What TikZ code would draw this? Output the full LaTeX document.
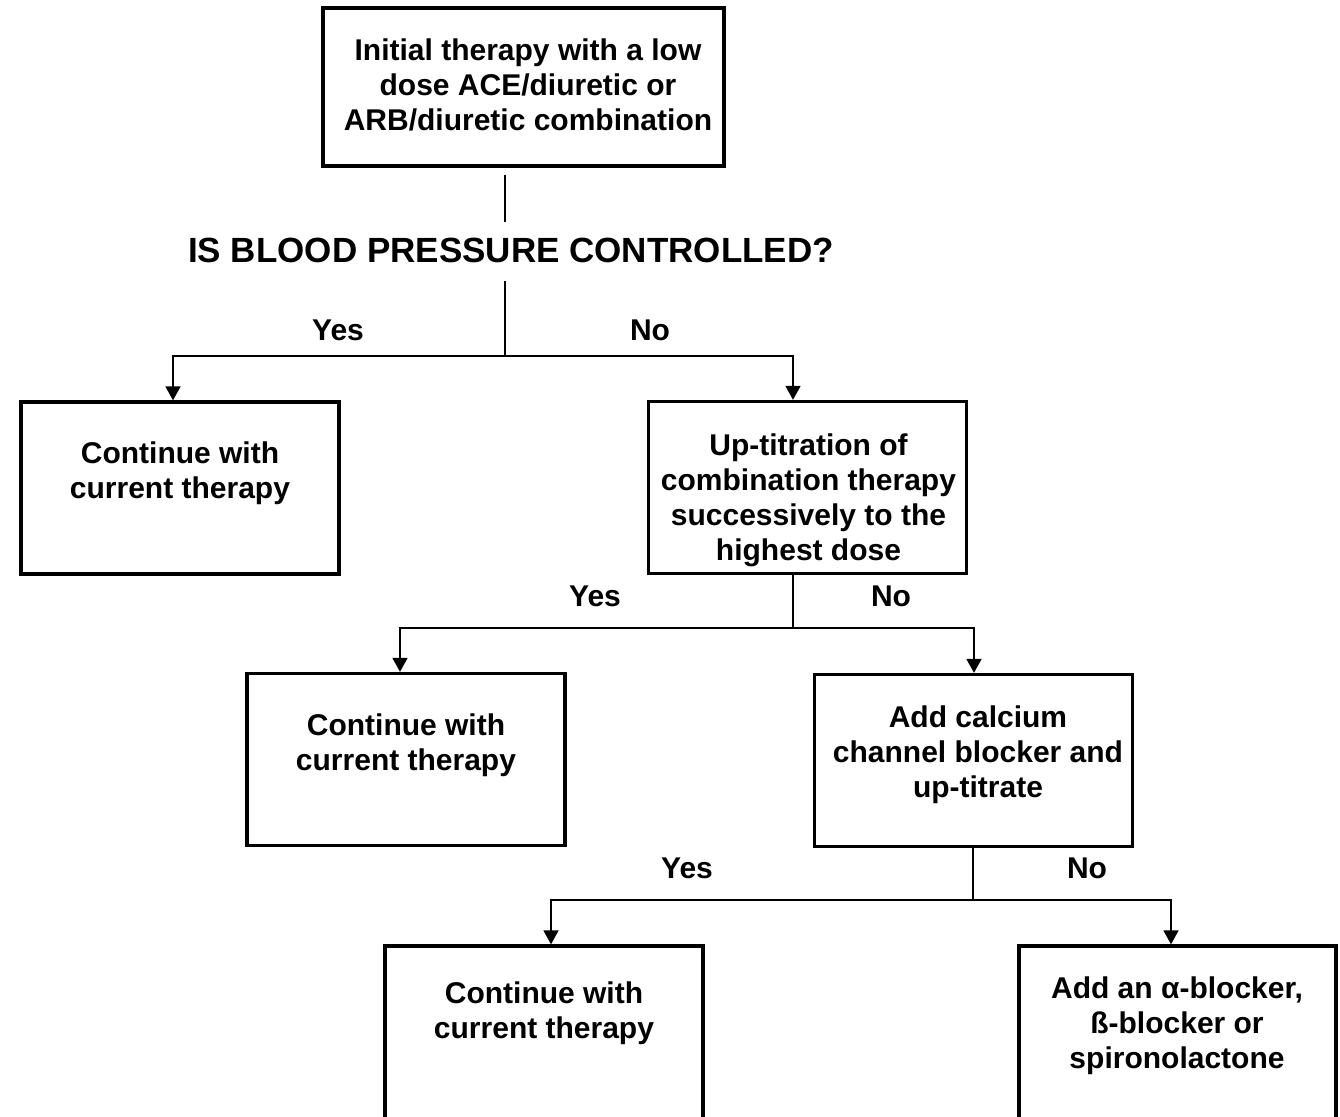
\documentclass[tikz,border=0pt]{standalone}
\usepackage{fontspec}
\setmainfont{Liberation Sans}
\usetikzlibrary{arrows.meta}

\tikzset{every picture/.style={line width=0.75pt}}
\tikzset{
  box/.style={draw, line width=2.4pt, minimum width=238.5pt, minimum height=129pt, inner sep=0pt},
  txt/.style={anchor=north, inner sep=0.75pt, align=center, font=\fontsize{22.5}{26.25}\selectfont\bfseries},
  lbl/.style={anchor=base, inner sep=0.75pt, font=\fontsize{22.5}{26.25}\selectfont\bfseries},
  link/.style={line width=1.9pt},
  arr/.style={line width=1.9pt, -{Triangle[width=11pt,length=10.5pt]}},
}

\begin{document}
\begin{tikzpicture}[x=0.75pt,y=0.75pt,yscale=-1,xscale=1]
\useasboundingbox (0,0) rectangle (1340,1117);

%Shape: Rectangle [init]
\node[box, minimum width=300.75pt, minimum height=118.5pt] (init) at (523.5,87) {};
%Shape: Rectangle [first level]
\node[box] (cont1) at (180,488) {};
\node[box] (titr) at (807.5,487.5) {};
%Shape: Rectangle [second level]
\node[box] (cont2) at (406,759.5) {};
\node[box] (ccb) at (973.5,760.5) {};
%Shape: Rectangle [third level, cut at the bottom]
\node[box, minimum height=132pt] (cont3) at (544,1034) {};
\node[box, minimum height=132pt, minimum width=237.75pt] (addab) at (1177.5,1034) {};

% Text Node
\node[txt] (initt) at (528,37.5) {Initial therapy with a low\\dose ACE/diuretic or\\ARB/diuretic combination};
% Text Node
\node[anchor=base, inner sep=11pt, font=\fontsize{26.25}{30}\selectfont\bfseries] (quest) at (511,262) {IS BLOOD PRESSURE CONTROLLED?};
% Text Node
\node[txt] (cont1t) at (180,440.5) {Continue with\\current therapy};
% Text Node
\node[txt] (titrt) at (808.5,432.5) {Up-titration of\\combination therapy\\successively to the\\highest dose};
% Text Node
\node[txt] (cont2t) at (406,712.5) {Continue with\\current therapy};
% Text Node
\node[txt] (ccbt) at (978,704.5) {Add calcium\\channel blocker and\\up-titrate};
% Text Node
\node[txt] (cont3t) at (544,980) {Continue with\\current therapy};
% Text Node
\node[txt] (addabt) at (1177,975.5) {Add an α-blocker,\\ß-blocker or\\spironolactone};

% Yes / No
\node[lbl] (yes1) at (338,340) {Yes};
\node[lbl] (no1) at (650,340) {No};
\node[lbl] (yes2) at (595,606) {Yes};
\node[lbl] (no2) at (891,606) {No};
\node[lbl] (yes3) at (687,878) {Yes};
\node[lbl] (no3) at (1087,878) {No};

% junctions and arrow columns
\coordinate (j1) at (505,356);
\coordinate (j2) at (793,628);
\coordinate (j3) at (973,900);
\coordinate (a1) at (173,0);
\coordinate (a2) at (793,0);
\coordinate (a3) at (400,0);
\coordinate (a4) at (974,0);
\coordinate (a5) at (551,0);
\coordinate (a6) at (1171,0);

% Connection
\draw[link, shorten <=5.25pt] (init.south -| j1) -- (quest.north -| j1);
\draw[link, shorten <=2.5pt] (quest.south -| j1) -- (j1);
\draw[arr] (j1) -| (a1 |- cont1.north);
\draw[arr] (j1) -| (a2 |- titr.north);
% Connection
\draw[link] (titr.south -| j2) -- (j2);
\draw[arr] (j2) -| (a3 |- cont2.north);
\draw[arr] (j2) -| (a4 |- ccb.north);
% Connection
\draw[link] (ccb.south -| j3) -- (j3);
\draw[arr] (j3) -| (a5 |- cont3.north);
\draw[arr] (j3) -| (a6 |- addab.north);

\end{tikzpicture}
\end{document}
